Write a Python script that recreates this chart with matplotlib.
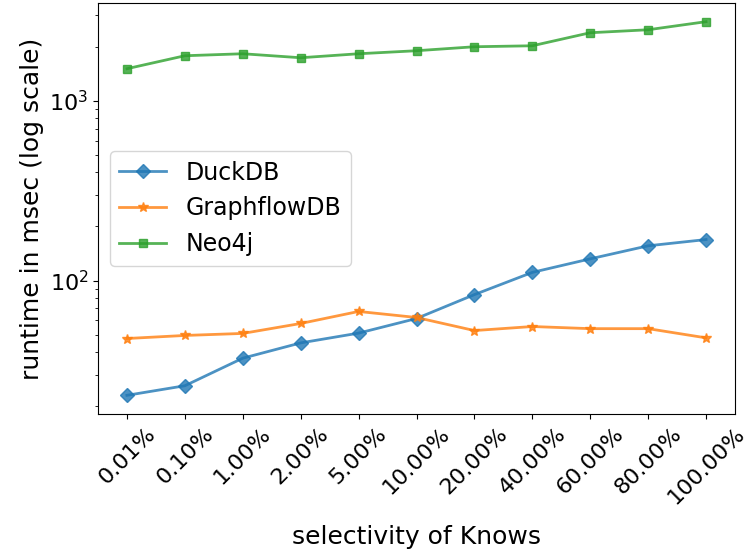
import matplotlib
matplotlib.use("Agg")
import matplotlib.pyplot as plt

selectivity = ["0.01%", "0.10%", "1.00%", "2.00%", "5.00%", "10.00%",
               "20.00%", "40.00%", "60.00%", "80.00%", "100.00%"]
duckdb = [23, 26, 37, 45, 51, 61.5, 83.5, 111, 132, 156, 169]
graphflowdb = [47.6, 49.5, 50.8, 57.7, 67.3, 62.3, 52.7, 55.5, 54, 54, 48]
neo4j = [1506, 1778, 1824, 1733, 1824, 1896, 1995, 2020, 2387, 2480, 2750]

fig = plt.figure(figsize=(7.49, 5.55), dpi=100)
ax = fig.add_axes([98/749, 1-414/555, (735-98)/749, (414-3)/555])

x = range(len(selectivity))
ax.plot(x, duckdb, marker='D', markersize=7, linewidth=2, alpha=0.8, label='DuckDB')
ax.plot(x, graphflowdb, marker='*', markersize=7, linewidth=2, alpha=0.8, label='GraphflowDB')
ax.plot(x, neo4j, marker='s', markersize=6, linewidth=2, alpha=0.8, label='Neo4j')
ax.set_yscale('log')

ax.set_xticks(list(x))
ax.set_xticklabels(selectivity, rotation=45, fontsize=16)
ax.tick_params(axis='y', labelsize=16)
ax.set_xlabel('selectivity of Knows', fontsize=18, labelpad=12)
ax.set_ylabel('runtime in msec (log scale)', fontsize=18)
ax.legend(loc='center left', fontsize=17)

fig.savefig('out.png', dpi=100)
